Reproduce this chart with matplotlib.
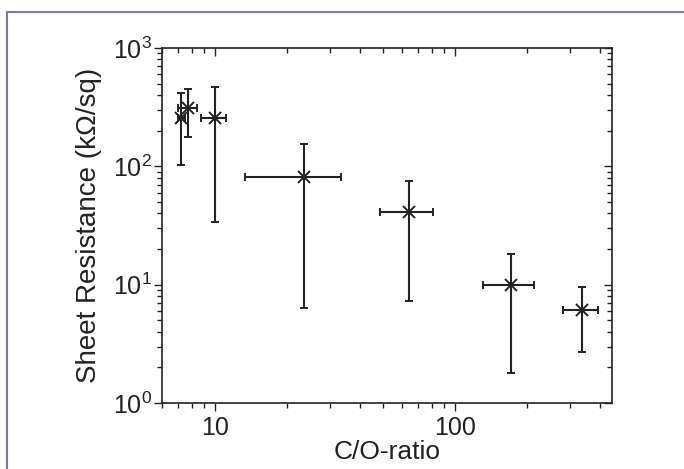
import matplotlib
matplotlib.use("Agg")
import matplotlib.pyplot as plt
from matplotlib.lines import Line2D
from matplotlib.ticker import FuncFormatter, LogFormatterSciNotation
import numpy as np

plt.rcParams['font.family'] = ['Liberation Sans', 'DejaVu Sans']
plt.rcParams['mathtext.fontset'] = 'custom'
plt.rcParams['mathtext.rm'] = 'Liberation Sans'
plt.rcParams['mathtext.it'] = 'Liberation Sans:italic'
plt.rcParams['mathtext.bf'] = 'Liberation Sans:bold'

# Data
co_ratio   = [7.2, 7.7, 10.0, 23.5, 64.0, 170.0, 337.0]
co_low     = [7.0, 7.0, 8.7, 13.3, 48.7, 131.0, 282.0]
co_high    = [7.5, 8.4, 11.1, 33.5, 81.0, 212.0, 395.0]
resistance = [255, 309, 255, 81, 41.4, 9.9, 6.1]
res_low    = [102, 178, 34, 6.4, 7.3, 1.78, 2.7]
res_high   = [414, 448, 471, 154, 75.6, 18.2, 9.6]

x = np.array(co_ratio)
y = np.array(resistance)
xerr = [x - np.array(co_low), np.array(co_high) - x]
yerr = [y - np.array(res_low), np.array(res_high) - y]

fig = plt.figure(figsize=(6.84, 4.69), dpi=100)
ax = fig.add_axes([162/684, 1-403/469, (612-162)/684, (403-48)/469])

col = '#222222'
ax.errorbar(x, y, xerr=xerr, yerr=yerr, fmt='x', color=col, ecolor=col,
            markersize=8, markeredgewidth=1.4, elinewidth=1.5, capsize=2.6,
            capthick=1.5, zorder=3)

ax.set_xscale('log')
ax.set_yscale('log')
ax.set_xlim(6, 450)
ax.set_ylim(1, 1000)

ax.xaxis.set_major_formatter(FuncFormatter(lambda v, p: '%g' % v))
ax.yaxis.set_major_formatter(LogFormatterSciNotation())

for s in ax.spines.values():
    s.set_linewidth(1.2)
    s.set_color('#222222')

ax.tick_params(which='both', direction='out', top=False, right=False,
               labelsize=18, colors='#222222', width=1.0)
ax.tick_params(which='major', length=6)
ax.tick_params(which='minor', length=3.5)
ax.tick_params(axis='y', which='major', pad=1)
ax.tick_params(axis='x', which='major', pad=3)

# mirrored inward ticks on top and right
axt = ax.twiny()
axt.set_xscale('log')
axt.set_xlim(ax.get_xlim())
axt.tick_params(which='both', direction='in', labeltop=False, top=True,
                bottom=False, width=1.0, colors='#222222')
axt.tick_params(which='major', length=6)
axt.tick_params(which='minor', length=3.5)
axr = ax.twinx()
axr.set_yscale('log')
axr.set_ylim(ax.get_ylim())
axr.tick_params(which='both', direction='in', labelright=False, right=True,
                left=False, width=1.0, colors='#222222')
axr.tick_params(which='major', length=6)
axr.tick_params(which='minor', length=3.5)
for a in (axt, axr):
    for s in a.spines.values():
        s.set_visible(False)

ax.set_xlabel('C/O-ratio', fontsize=19, color='#222222', labelpad=0)
ax.set_ylabel('Sheet Resistance (k\u03a9/sq)', fontsize=20, color='#222222', labelpad=8)

# frame border
bc = '#7a78b8'
fig.add_artist(Line2D([7/684, 7/684], [0, 1-12/469], transform=fig.transFigure, color=bc, lw=1.5))
fig.add_artist(Line2D([7/684, 1], [1-12/469, 1-12/469], transform=fig.transFigure, color=bc, lw=1.5))

fig.savefig('out.png', dpi=100)
